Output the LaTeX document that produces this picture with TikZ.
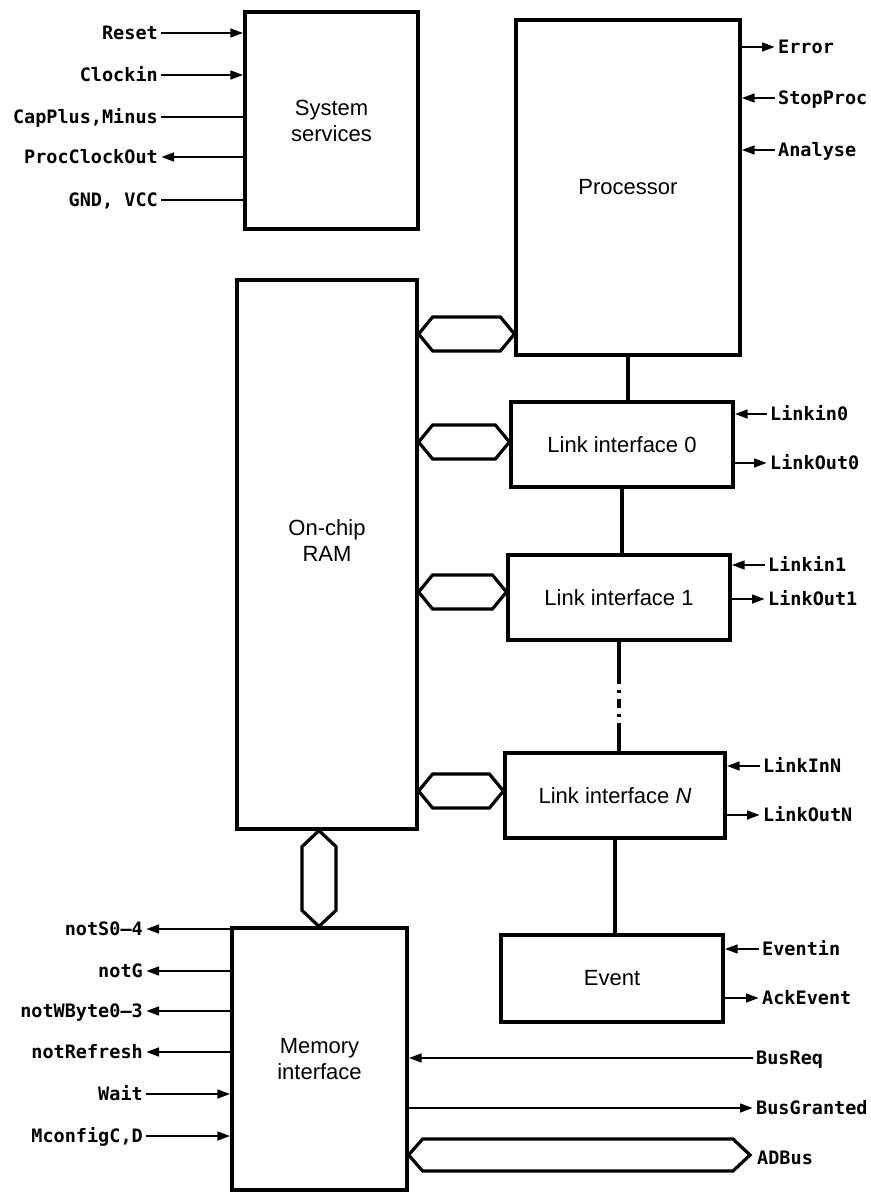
\documentclass[tikz,border=0pt]{standalone}
\usepackage{fontspec}
\usetikzlibrary{arrows.meta,calc}
\newfontfamily\boxfam{Liberation Sans}
\newfontfamily\sigfam{DejaVu Sans Mono}
\newcommand{\hexbus}[2]{\draw[bus] (#1) -- ++(14,-17) -- ($(#2)+(-14,-17)$) -- (#2) -- ($(#2)+(-14,17)$) -- ($(#1)+(14,17)$) -- cycle;}
\begin{document}
\begin{tikzpicture}[x=1pt,y=-1pt,
 boxtext/.style={inner sep=0pt, align=center, font=\boxfam\fontsize{22}{26}\selectfont},
 box/.style={boxtext, draw, line width=3.2pt},
 lbl/.style={font=\sigfam\bfseries\fontsize{18.5}{20}\selectfont, inner sep=3pt, text height=13.5pt, text depth=0pt},
 sig/.style={line width=2.8pt},
 sigarr/.style={sig, -{Triangle[length=13pt,width=8.5pt]}},
 bus/.style={line width=3.2pt, line join=miter},
 link/.style={line width=3.2pt}]
\useasboundingbox (0,0) rectangle (870,1193);

% boxes
\node[box, minimum width=173pt, minimum height=217pt] (ss) at (331.5,120.5) {System\\services};
\node[box, minimum width=224pt, minimum height=335pt] (proc) at (628,187.5) {Processor};
\node[box, minimum width=222pt, minimum height=85pt] (li0) at (622,444.5) {Link interface 0};
\node[box, minimum width=222pt, minimum height=85pt] (li1) at (619,597.5) {Link interface 1};
\node[box, minimum width=220pt, minimum height=85pt] (liN) at (615,795.5) {Link interface \textit{N}};
\node[box, minimum width=222pt, minimum height=87pt] (ev) at (612,978.5) {Event};
\node[box, minimum width=180pt, minimum height=549pt] (ram) at (327,554.5) {};
\node[boxtext] (ramtxt) at (327,541) {On-chip\\RAM};
\node[box, minimum width=175pt, minimum height=262pt] (mem) at (319.5,1059) {Memory\\interface};

% system services signals
\node[lbl, anchor=east] (rst) at (161,33) {Reset};
\draw[sigarr] (rst) -- (rst -| ss.west);
\node[lbl, anchor=east] (clk) at (161,75) {Clockin};
\draw[sigarr] (clk) -- (clk -| ss.west);
\node[lbl, anchor=east] (cap) at (161,117) {CapPlus,Minus};
\draw[sig] (cap) -- (cap -| ss.west);
\node[lbl, anchor=east] (pco) at (161,157) {ProcClockOut};
\draw[sigarr] (pco -| ss.west) -- (pco);
\node[lbl, anchor=east] (gnd) at (161,200) {GND, VCC};
\draw[sig] (gnd) -- (gnd -| ss.west);

% processor signals
\node[lbl, anchor=west] (err) at (775,47) {Error};
\draw[sigarr] (err -| proc.east) -- (err);
\node[lbl, anchor=west] (stp) at (775,98) {StopProc};
\draw[sigarr] (stp) -- (stp -| proc.east);
\node[lbl, anchor=west] (ana) at (775,150) {Analyse};
\draw[sigarr] (ana) -- (ana -| proc.east);

% link signals
\node[lbl, anchor=west] (lin0) at (767,414) {Linkin0};
\draw[sigarr] (lin0) -- (lin0 -| li0.east);
\node[lbl, anchor=west] (lout0) at (767,463) {LinkOut0};
\draw[sigarr] (lout0 -| li0.east) -- (lout0);
\node[lbl, anchor=west] (lin1) at (765,565) {Linkin1};
\draw[sigarr] (lin1) -- (lin1 -| li1.east);
\node[lbl, anchor=west] (lout1) at (765,599) {LinkOut1};
\draw[sigarr] (lout1 -| li1.east) -- (lout1);
\node[lbl, anchor=west] (linN) at (760,766) {LinkInN};
\draw[sigarr] (linN) -- (linN -| liN.east);
\node[lbl, anchor=west] (loutN) at (760,815) {LinkOutN};
\draw[sigarr] (loutN -| liN.east) -- (loutN);
\node[lbl, anchor=west] (evin) at (759,949) {Eventin};
\draw[sigarr] (evin) -- (evin -| ev.east);
\node[lbl, anchor=west] (ack) at (759,998) {AckEvent};
\draw[sigarr] (ack -| ev.east) -- (ack);

% memory interface signals
\node[lbl, anchor=east] (ns) at (146,929) {notS0–4};
\draw[sigarr] (ns -| mem.west) -- (ns);
\node[lbl, anchor=east] (ng) at (146,971) {notG};
\draw[sigarr] (ng -| mem.west) -- (ng);
\node[lbl, anchor=east] (nw) at (146,1011) {notWByte0–3};
\draw[sigarr] (nw -| mem.west) -- (nw);
\node[lbl, anchor=east] (nr) at (146,1052) {notRefresh};
\draw[sigarr] (nr -| mem.west) -- (nr);
\node[lbl, anchor=east] (wt) at (146,1094) {Wait};
\draw[sigarr] (wt) -- (wt -| mem.west);
\node[lbl, anchor=east] (mc) at (146,1136) {MconfigC,D};
\draw[sigarr] (mc) -- (mc -| mem.west);

\node[lbl, anchor=west] (breq) at (753,1058) {BusReq};
\draw[sigarr] (breq) -- (breq -| mem.east);
\node[lbl, anchor=west] (bgnt) at (753,1108) {BusGranted};
\draw[sigarr] (bgnt -| mem.east) -- (bgnt);
\coordinate (adr) at (750,1155);
\node[lbl, anchor=west] (adb) at (754,1158) {ADBus};
\coordinate (adl) at (mem.east |- adr);
\draw[bus] (adl) -- ++(14,-16) -- ($(adr)+(-17,-16)$) -- (adr) -- ($(adr)+(-17,16)$) -- ($(adl)+(14,16)$) -- cycle;

% buses between RAM and units
\coordinate (h1l) at (ram.east |- 0,334);
\coordinate (h1r) at (proc.west |- 0,334);
\hexbus{h1l}{h1r}
\coordinate (h2l) at (ram.east |- 0,442);
\coordinate (h2r) at (li0.west |- 0,442);
\hexbus{h2l}{h2r}
\coordinate (h3l) at (ram.east |- 0,592);
\coordinate (h3r) at (li1.west |- 0,592);
\hexbus{h3l}{h3r}
\coordinate (h4l) at (ram.east |- 0,791);
\coordinate (h4r) at (liN.west |- 0,791);
\hexbus{h4l}{h4r}

% vertical bus RAM - memory interface
\coordinate (vt) at (319,0 |- ram.south);
\coordinate (vb) at (319,0 |- mem.north);
\draw[bus] (vt) -- ++(17,16) -- ($(vb)+(17,-16)$) -- (vb) -- ($(vb)+(-17,-16)$) -- ($(vt)+(-17,16)$) -- cycle;

% links chain
\draw[link] (proc.south) -- (proc.south |- li0.north);
\draw[link] (li0.south) -- (li0.south |- li1.north);
\draw[link, dash pattern=on 42pt off 6pt on 3pt off 6pt on 9pt off 6pt on 3pt off 6pt on 60pt] (li1.south) -- (li1.south |- liN.north);
\draw[link] (liN.south) -- (liN.south |- ev.north);
\end{tikzpicture}
\end{document}
